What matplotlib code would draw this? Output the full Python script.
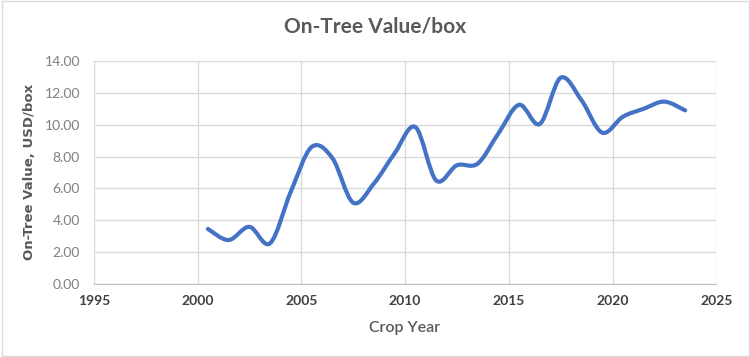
import numpy as np
import matplotlib.pyplot as plt
from matplotlib.path import Path
from matplotlib.patches import PathPatch, Rectangle

# Crop years (plotted at mid-year) and on-tree value per box
years = [2000.5, 2001.5, 2002.5, 2003.5, 2004.5, 2005.5, 2006.5, 2007.5,
         2008.5, 2009.5, 2010.5, 2011.5, 2012.5, 2013.5, 2014.5, 2015.5,
         2016.5, 2017.5, 2018.5, 2019.5, 2020.5, 2021.5, 2022.5, 2023.5]
values = [3.45, 2.75, 3.58, 2.55, 5.80, 8.60, 7.90, 5.10,
          6.30, 8.20, 9.85, 6.50, 7.45, 7.55, 9.45, 11.25,
          10.05, 12.95, 11.55, 9.50, 10.50, 11.00, 11.45, 10.90]
x_ticks = [1995, 2000, 2005, 2010, 2015, 2020, 2025]
y_ticks = [0, 2, 4, 6, 8, 10, 12, 14]

FONT = ['Lato', 'DejaVu Sans']


def smooth_path(x, y):
    # Excel-style smoothed line: cubic Bezier through every point
    pts = np.column_stack([x, y])
    n = len(pts)
    verts = [pts[0]]
    codes = [Path.MOVETO]
    for i in range(n - 1):
        p0 = pts[i - 1] if i > 0 else pts[i]
        p1 = pts[i]
        p2 = pts[i + 1]
        p3 = pts[i + 2] if i + 2 < n else pts[i + 1]
        c1 = p1 + (p2 - p0) / 6.0
        c2 = p2 - (p3 - p1) / 6.0
        verts += [c1, c2, p2]
        codes += [Path.CURVE4] * 3
    return Path(verts, codes)


fig = plt.figure(figsize=(7.5, 3.57), dpi=100)
fig.patches.append(Rectangle((0.002, 0.003), 0.996, 0.994, transform=fig.transFigure,
                             fill=False, edgecolor='#d9d9d9', linewidth=1))
ax = fig.add_axes([0.125, 0.205, 0.83, 0.624])

ax.add_patch(PathPatch(smooth_path(years, values), fill=False,
                       edgecolor='#4472C4', linewidth=3.0, capstyle='round',
                       joinstyle='round', zorder=3))

ax.set_xlim(1995, 2025)
ax.set_ylim(0, 14)
ax.set_xticks(x_ticks)
ax.set_yticks(y_ticks)
ax.set_yticklabels([f'{v:.2f}' for v in y_ticks])
ax.grid(True, color='#d9d9d9', linewidth=1)
ax.set_axisbelow(True)
for side in ['top', 'right', 'left']:
    ax.spines[side].set_visible(False)
ax.spines['bottom'].set_color('#bfbfbf')
ax.tick_params(length=0)
ax.tick_params(axis='x', pad=8, labelsize=10, labelcolor='#404040')
ax.tick_params(axis='y', pad=10, labelsize=10, labelcolor='#7f7f7f')
for lab in ax.get_xticklabels():
    lab.set_fontfamily(FONT)
    lab.set_fontweight('bold')
for lab in ax.get_yticklabels():
    lab.set_fontfamily(FONT)

ax.set_xlabel('Crop Year', fontsize=11.5, color='#595959', labelpad=10,
              family=FONT, fontweight='semibold')
ax.set_ylabel('On-Tree Value, USD/box', fontsize=9.5, color='#595959',
              fontweight='bold', labelpad=6)
fig.suptitle('On-Tree Value/box', fontsize=15, color='#595959', y=0.955,
             family=FONT, fontweight='bold')

fig.savefig('out.png', dpi=100)
